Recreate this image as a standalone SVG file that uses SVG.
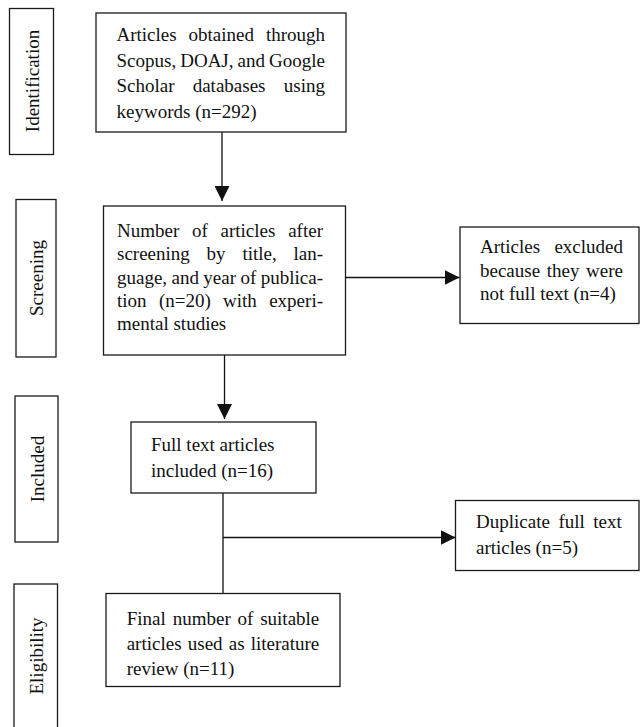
<svg xmlns="http://www.w3.org/2000/svg" width="640" height="727" viewBox="0 0 640 727">
<style>
.b{fill:#fff;stroke:#1a1a1a;stroke-width:1.3}
.t{font-family:"Liberation Serif","Times New Roman",serif;font-size:19px;fill:#111}
.e{text-anchor:end}
.r{text-anchor:middle}
.c{stroke:#111;stroke-width:1.3;fill:none}
</style>
<defs>
<marker id="ah" markerUnits="userSpaceOnUse" markerWidth="15" markerHeight="15" refX="15" refY="7.5" orient="auto">
<path d="M0,0 L15,7.5 L0,15 Z" fill="#111"/>
</marker>
</defs>
<rect width="640" height="727" fill="#fff"/>
<g id="connectors">
<line class="c" x1="222" y1="132" x2="222" y2="201" marker-end="url(#ah)"/>
<line class="c" x1="224.5" y1="355" x2="224.5" y2="419" marker-end="url(#ah)"/>
<line class="c" x1="345.5" y1="277.5" x2="459.5" y2="277.5" marker-end="url(#ah)"/>
<line class="c" x1="223" y1="493" x2="223" y2="593.5"/>
<line class="c" x1="223" y1="537.5" x2="455.5" y2="537.5" marker-end="url(#ah)"/>
</g>
<g id="label-identification">
<rect class="b" x="9.5" y="8.5" width="44" height="146"/>
<text class="t r" transform="translate(38.5,81) rotate(-90)">Identification</text>
</g>
<g id="label-screening">
<rect class="b" x="16" y="199.5" width="40" height="157.5"/>
<text class="t r" transform="translate(42.5,278) rotate(-90)">Screening</text>
</g>
<g id="label-included">
<rect class="b" x="15" y="396" width="43" height="146"/>
<text class="t r" transform="translate(43.5,469) rotate(-90)">Included</text>
</g>
<g id="label-eligibility">
<rect class="b" x="14" y="584" width="43.5" height="150"/>
<text class="t r" transform="translate(42.5,656) rotate(-90)">Eligibility</text>
</g>
<g id="node-identified">
<rect class="b" x="96" y="13" width="250" height="119"/>
<text class="t" y="41"><tspan x="116.5">Articles</tspan><tspan x="188.6">obtained</tspan><tspan x="325" class="e">through</tspan></text>
<text class="t" y="66.5"><tspan x="116.5">Scopus,</tspan><tspan x="180.2">DOAJ,</tspan><tspan x="237.6">and</tspan><tspan x="325" class="e">Google</tspan></text>
<text class="t" y="92"><tspan x="116.5">Scholar</tspan><tspan x="192.7">databases</tspan><tspan x="325" class="e">using</tspan></text>
<text class="t" x="116.5" y="117.5">keywords (n=292)</text>
</g>
<g id="node-screened">
<rect class="b" x="103.5" y="206" width="242" height="149"/>
<text class="t" y="237"><tspan x="117">Number</tspan><tspan x="192">of</tspan><tspan x="220.5">articles</tspan><tspan x="323" class="e">after</tspan></text>
<text class="t" y="260"><tspan x="117">screening</tspan><tspan x="206.6">by</tspan><tspan x="242.4">title,</tspan><tspan x="323" class="e">lan-</tspan></text>
<text class="t" y="283.5"><tspan x="117">guage,</tspan><tspan x="171.5">and</tspan><tspan x="203.3">year</tspan><tspan x="240.4">of</tspan><tspan x="323" class="e">publica-</tspan></text>
<text class="t" y="307"><tspan x="117">tion</tspan><tspan x="158.9">(n=20)</tspan><tspan x="223.1">with</tspan><tspan x="323" class="e">experi-</tspan></text>
<text class="t" x="117" y="330">mental studies</text>
</g>
<g id="node-excluded">
<rect class="b" x="460" y="227" width="179" height="96.5"/>
<text class="t" y="253"><tspan x="480">Articles</tspan><tspan x="623" class="e">excluded</tspan></text>
<text class="t" y="276.5"><tspan x="480">because</tspan><tspan x="546.8">they</tspan><tspan x="623" class="e">were</tspan></text>
<text class="t" x="480" y="299.5">not full text (n=4)</text>
</g>
<g id="node-included">
<rect class="b" x="131" y="422" width="185" height="71"/>
<text class="t" x="151" y="451">Full text articles</text>
<text class="t" x="151" y="477">included (n=16)</text>
</g>
<g id="node-duplicate">
<rect class="b" x="455.5" y="500.5" width="183.5" height="70"/>
<text class="t" y="528"><tspan x="476">Duplicate</tspan><tspan x="558.4">full</tspan><tspan x="621.7" class="e">text</tspan></text>
<text class="t" x="476" y="554">articles (n=5)</text>
</g>
<g id="node-final">
<rect class="b" x="106" y="593.5" width="234" height="93"/>
<text class="t" y="625"><tspan x="126.7">Final</tspan><tspan x="172.7">number</tspan><tspan x="237.6">of</tspan><tspan x="319.3" class="e">suitable</tspan></text>
<text class="t" y="649.5"><tspan x="126.7">articles</tspan><tspan x="187.8">used</tspan><tspan x="228.8">as</tspan><tspan x="319.3" class="e">literature</tspan></text>
<text class="t" x="126.7" y="675">review (n=11)</text>
</g>
</svg>
